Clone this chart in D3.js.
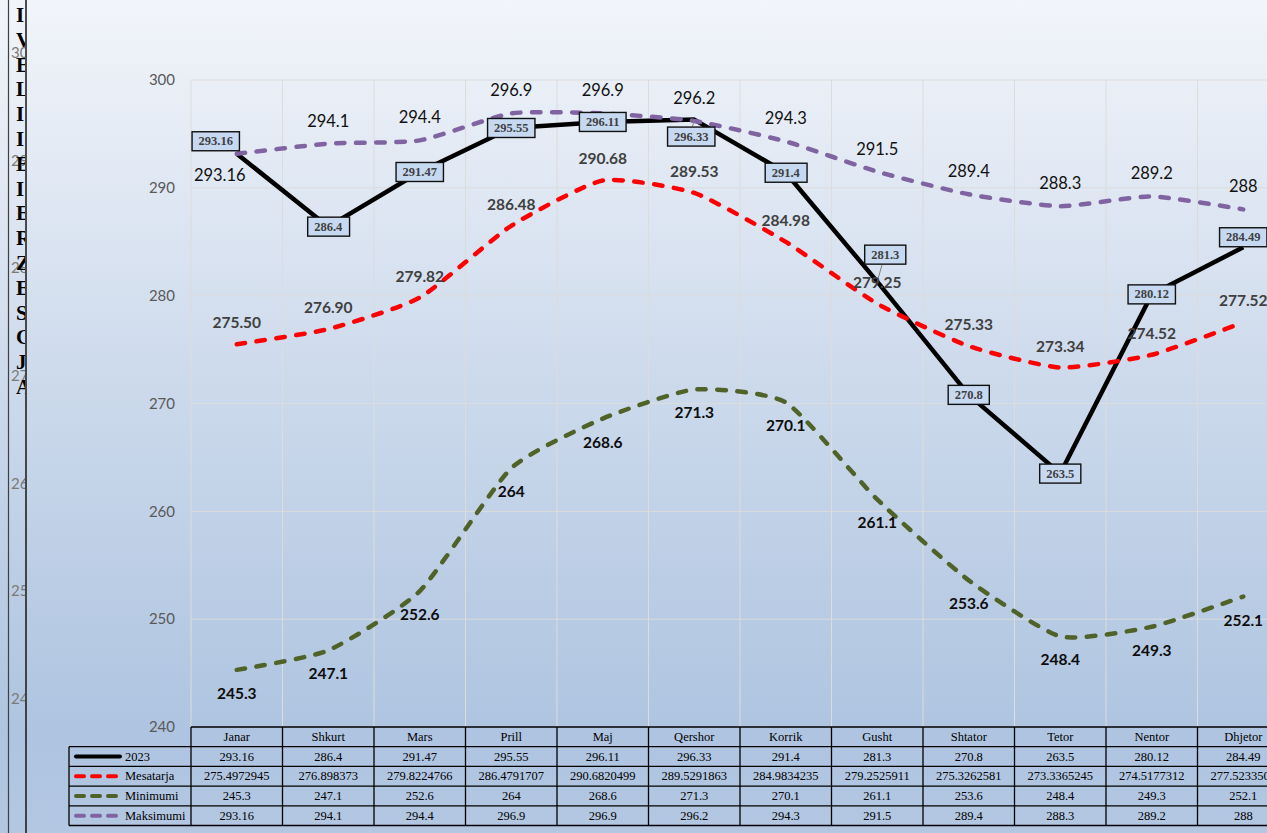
<!DOCTYPE html>
<html>
<head>
<meta charset="utf-8">
<script src="https://cdn.jsdelivr.net/npm/d3@7"></script>
<style>
  html, body { margin: 0; padding: 0; overflow: hidden; background: #ffffff; }
  svg { display: block; }
</style>
</head>
<body>
<div id="chart"></div>
<script>
// --------------------------------------------------------------------------------------
// data
// --------------------------------------------------------------------------------------
var months = ["Janar", "Shkurt", "Mars", "Prill", "Maj", "Qershor", "Korrik", "Gusht", "Shtator", "Tetor", "Nentor", "Dhjetor"];
var values_2023 = [293.16, 286.4, 291.47, 295.55, 296.11, 296.33, 291.4, 281.3, 270.8, 263.5, 280.12, 284.49];
var mesatarja = [275.4972945, 276.898373, 279.8224766, 286.4791707, 290.6820499, 289.5291863, 284.9834235, 279.2525911, 275.3262581, 273.3365245, 274.5177312, 277.5233503];
var minimumi = [245.3, 247.1, 252.6, 264, 268.6, 271.3, 270.1, 261.1, 253.6, 248.4, 249.3, 252.1];
var maksimumi = [293.16, 294.1, 294.4, 296.9, 296.9, 296.2, 294.3, 291.5, 289.4, 288.3, 289.2, 288];
var y_ticks = [240, 250, 260, 270, 280, 290, 300];
var series_names = ["2023", "Mesatarja", "Minimumi", "Maksimumi"];
// letters of the chart behind, cut by its frame
var side_letters = ["I", "V", "E", "L", "I", "I", "E", "I", "E", "R", "Z", "E", "S", "G", "J", "A"];

// --------------------------------------------------------------------------------------
// layout
// --------------------------------------------------------------------------------------
var W = 1267, H = 833;
var plot = {left: 191, top: 80, bottom: 727, col: 91.5};
var row_h = 19.7;
var legend_left = 69;

var colors = {"2023": "#000000", "Mesatarja": "#ff0000", "Minimumi": "#4f6228", "Maksimumi": "#8064a2"};

// label nudges for the boxed 2023 labels, [dx, dy] from the point
var box_nudge = {0: [-21, -12.5], 5: [-3, 17], 7: [8, -27], 11: [0, -10]};

var svg = d3.select("#chart").append("svg")
    .attr("width", W)
    .attr("height", H)
    .style("font-family", "Lato, 'Open Sans', sans-serif");

var defs = svg.append("defs");

var grad = defs.append("linearGradient")
    .attr("id", "bg")
    .attr("x1", 0).attr("y1", 0).attr("x2", 0).attr("y2", 1);
grad.append("stop").attr("offset", "0%").attr("stop-color", "#f2f5fa");
grad.append("stop").attr("offset", "45%").attr("stop-color", "#cddaec");
grad.append("stop").attr("offset", "88%").attr("stop-color", "#aec4e0");
grad.append("stop").attr("offset", "100%").attr("stop-color", "#b3c7e2");

defs.append("clipPath").attr("id", "strip")
  .append("rect").attr("x", 0).attr("y", 0).attr("width", 25).attr("height", H);

svg.append("rect")
    .attr("width", W)
    .attr("height", H)
    .attr("fill", "url(#bg)");

// --------------------------------------------------------------------------------------
// scales
// --------------------------------------------------------------------------------------
var x = d3.scaleBand()
    .domain(months)
    .range([plot.left, plot.left + months.length * plot.col]);

var y = d3.scaleLinear()
    .domain([240, 300])
    .range([plot.bottom, plot.top]);

// the chart behind uses the same step but sits higher
var y_back = d3.scaleLinear()
    .domain([240, 300])
    .range([698, 52]);

function cx(d, i) { return x(months[i]) + x.bandwidth() / 2; }

// --------------------------------------------------------------------------------------
// left strip: chart behind
// --------------------------------------------------------------------------------------
var strip = svg.append("g").attr("clip-path", "url(#strip)");

strip.selectAll(".back-tick")
    .data(y_ticks)
    .enter().append("text")
    .attr("x", 11)
    .attr("y", function(d) { return y_back(d); })
    .attr("dominant-baseline", "central")
    .attr("fill", "#7a7a7a")
    .style("font-size", "15px")
    .text(function(d) { return d; });

strip.selectAll(".letter")
    .data(side_letters)
    .enter().append("text")
    .attr("x", 16)
    .attr("y", function(d, i) { return 15 + i * 24.8; })
    .attr("dominant-baseline", "central")
    .attr("fill", "#000")
    .style("font-family", "'Liberation Serif', 'DejaVu Serif', serif")
    .style("font-weight", "bold")
    .style("font-size", "21px")
    .text(function(d) { return d; });

svg.append("line")
    .attr("x1", 8.5).attr("x2", 8.5).attr("y1", 0).attr("y2", H)
    .attr("stroke", "#404040").attr("stroke-width", 1.2);

svg.append("line")
    .attr("x1", 26).attr("x2", 26).attr("y1", 0).attr("y2", H)
    .attr("stroke", "#222").attr("stroke-width", 1.6);

// --------------------------------------------------------------------------------------
// grid + axis
// --------------------------------------------------------------------------------------
var grid = svg.append("g");

grid.selectAll(".hgrid")
    .data(y_ticks.filter(function(d) { return d > 240; }))
    .enter().append("line")
    .attr("x1", plot.left).attr("x2", W)
    .attr("y1", function(d) { return y(d); })
    .attr("y2", function(d) { return y(d); })
    .attr("stroke", "#dcdcdc")
    .attr("stroke-width", 1);

grid.selectAll(".vgrid")
    .data(months)
    .enter().append("line")
    .attr("x1", function(d) { return x(d); })
    .attr("x2", function(d) { return x(d); })
    .attr("y1", plot.top).attr("y2", plot.bottom)
    .attr("stroke", "#dcdcdc")
    .attr("stroke-width", 1);

var y_axis = svg.append("g")
    .attr("transform", "translate(" + plot.left + ",0)")
    .call(d3.axisLeft(y).tickValues(y_ticks).tickSize(0).tickPadding(16));

y_axis.select(".domain").remove();
y_axis.selectAll("text")
    .attr("fill", "#595959")
    .style("font-family", "Lato, 'Open Sans', sans-serif")
    .style("font-size", "15px");

// --------------------------------------------------------------------------------------
// lines (excel draws later series on top)
// --------------------------------------------------------------------------------------
var line_straight = d3.line()
    .x(cx)
    .y(function(d) { return y(d); });

// excel "smoothed line" - tighter than catmull-rom, corners stay visible
var line_smooth = d3.line()
    .x(cx)
    .y(function(d) { return y(d); })
    .curve(d3.curveCardinal.tension(0.45));

svg.append("path")
    .attr("d", line_straight(values_2023))
    .attr("fill", "none")
    .attr("stroke", colors["2023"])
    .attr("stroke-width", 4.5)
    .attr("stroke-linejoin", "round");

[[mesatarja, "Mesatarja"], [minimumi, "Minimumi"], [maksimumi, "Maksimumi"]].forEach(function(s) {
  svg.append("path")
      .attr("d", line_smooth(s[0]))
      .attr("fill", "none")
      .attr("stroke", colors[s[1]])
      .attr("stroke-width", 4.5)
      .attr("stroke-linecap", "round")
      .attr("stroke-dasharray", "8.5,11.5");
});

// --------------------------------------------------------------------------------------
// data labels
// --------------------------------------------------------------------------------------
var labels = svg.append("g");

// Maksimumi - plain, above (first one below)
labels.selectAll(".lab-max")
    .data(maksimumi)
    .enter().append("text")
    .attr("x", function(d, i) { return cx(d, i) + (i == 0 ? -17 : 0); })
    .attr("y", function(d, i) { return y(d) + (i == 0 ? 21 : -23); })
    .attr("text-anchor", "middle")
    .attr("dominant-baseline", "central")
    .attr("fill", "#111")
    .style("font-size", "16.5px")
    .text(function(d) { return d; });

// Mesatarja - bold, above, 2 decimals
labels.selectAll(".lab-mes")
    .data(mesatarja)
    .enter().append("text")
    .attr("x", cx)
    .attr("y", function(d, i) { return y(d) - 22; })
    .attr("text-anchor", "middle")
    .attr("dominant-baseline", "central")
    .attr("fill", "#404040")
    .style("font-size", "15.5px")
    .style("font-weight", "bold")
    .text(function(d) { return d3.format(".2f")(d); });

// Minimumi - bold, below
labels.selectAll(".lab-min")
    .data(minimumi)
    .enter().append("text")
    .attr("x", cx)
    .attr("y", function(d, i) { return y(d) + 23; })
    .attr("text-anchor", "middle")
    .attr("dominant-baseline", "central")
    .attr("fill", "#0d0d0d")
    .style("font-size", "15.5px")
    .style("font-weight", "bold")
    .text(function(d) { return d; });

// 2023 - boxed callouts
var boxes = labels.selectAll(".lab-2023")
    .data(values_2023)
    .enter().append("g")
    .attr("transform", function(d, i) {
      var n = box_nudge[i] || [0, 0];
      return "translate(" + (cx(d, i) + n[0]) + "," + (y(d) + n[1]) + ")";
    });

// leader lines for labels moved away from their point
values_2023.forEach(function(d, i) {
  var n = box_nudge[i];
  if(!n || Math.abs(n[1]) < 15) return;
  var px = cx(d, i), py = y(d);
  labels.insert("line", ":first-child")
      .attr("x1", px + n[0] * 0.6).attr("y1", py + n[1] + (n[1] > 0 ? -10 : 10))
      .attr("x2", px).attr("y2", py)
      .attr("stroke", "#808080")
      .attr("stroke-width", 1);
});

boxes.append("text")
    .attr("text-anchor", "middle")
    .attr("dominant-baseline", "central")
    .attr("fill", "#404040")
    .style("font-family", "'Liberation Serif', 'DejaVu Serif', serif")
    .style("font-weight", "bold")
    .style("font-size", "12.5px")
    .text(function(d) { return d; });

boxes.each(function() {
  var g = d3.select(this);
  var bb = g.select("text").node().getBBox();
  g.insert("rect", "text")
      .attr("x", bb.x - 6.5)
      .attr("y", -9.5)
      .attr("width", bb.width + 13)
      .attr("height", 19)
      .attr("fill", "#c6d9f1")
      .attr("stroke", "#111")
      .attr("stroke-width", 1.4);
});

// --------------------------------------------------------------------------------------
// data table under the plot
// --------------------------------------------------------------------------------------
var table = svg.append("g")
    .style("font-family", "'Liberation Serif', 'DejaVu Serif', serif")
    .style("font-size", "12.5px");

var t_top = plot.bottom;
var t_right = x.range()[1];
var rows = [values_2023, mesatarja, minimumi, maksimumi];

// header
table.selectAll(".head")
    .data(months)
    .enter().append("text")
    .attr("x", function(d) { return x(d) + x.bandwidth() / 2; })
    .attr("y", t_top + row_h / 2)
    .attr("text-anchor", "middle")
    .attr("dominant-baseline", "central")
    .text(function(d) { return d; });

// values
rows.forEach(function(r, k) {
  table.selectAll(".row" + k)
      .data(r)
      .enter().append("text")
      .attr("x", cx)
      .attr("y", t_top + row_h * (k + 1.5))
      .attr("text-anchor", "middle")
      .attr("dominant-baseline", "central")
      .text(function(d) { return d; });

  var ly = t_top + row_h * (k + 1.5);
  var key = table.append("line")
      .attr("x1", 76).attr("x2", k == 0 ? 120 : 116)
      .attr("y1", ly).attr("y2", ly)
      .attr("stroke", colors[series_names[k]])
      .attr("stroke-width", 4)
      .attr("stroke-linecap", "round");
  if(k > 0) key.attr("stroke-dasharray", "8,8");

  table.append("text")
      .attr("x", 125)
      .attr("y", ly)
      .attr("dominant-baseline", "central")
      .text(series_names[k]);
});

// table grid lines
var t_bottom = t_top + row_h * 5;
var borders = table.append("g")
    .attr("stroke", "#000")
    .attr("stroke-width", 1.3)
    .attr("fill", "none");

borders.append("line")
    .attr("x1", plot.left).attr("x2", t_right)
    .attr("y1", t_top).attr("y2", t_top);

for(var k = 1; k <= 5; k++) {
  borders.append("line")
      .attr("x1", legend_left).attr("x2", t_right)
      .attr("y1", t_top + row_h * k).attr("y2", t_top + row_h * k);
}

borders.append("line")
    .attr("x1", legend_left).attr("x2", legend_left)
    .attr("y1", t_top + row_h).attr("y2", t_bottom);

months.forEach(function(m) {
  borders.append("line")
      .attr("x1", x(m)).attr("x2", x(m))
      .attr("y1", t_top).attr("y2", t_bottom);
});
</script>
</body>
</html>
